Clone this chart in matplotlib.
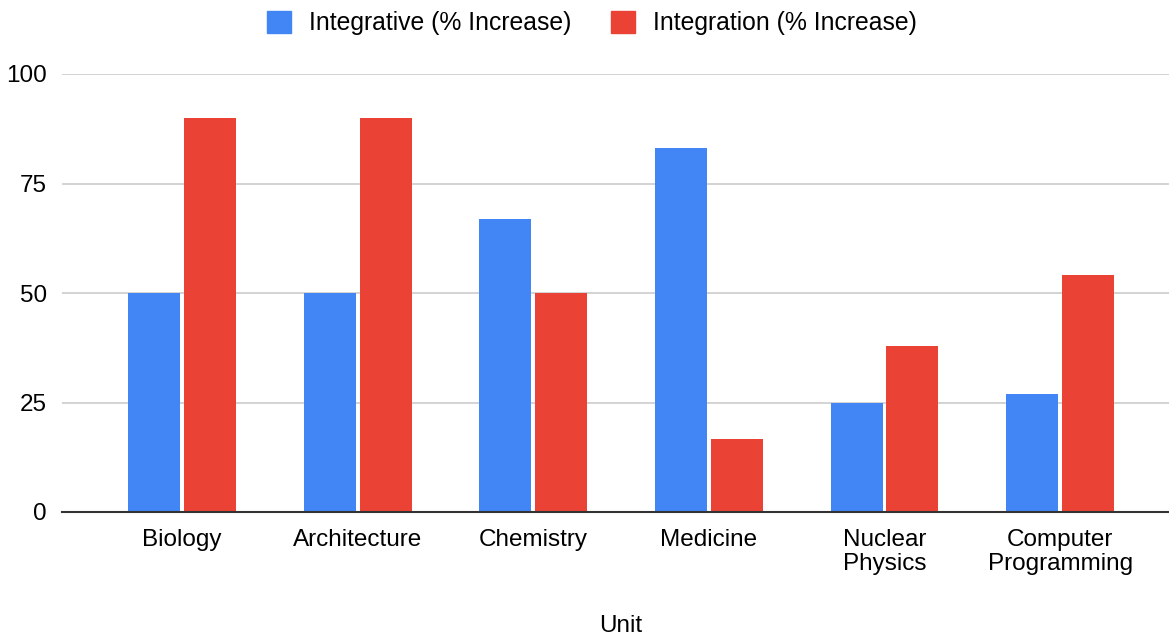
import matplotlib
matplotlib.use("Agg")
import matplotlib.pyplot as plt
import matplotlib.patches as mpatches
import numpy as np

plt.rcParams['font.family'] = ['Liberation Sans', 'DejaVu Sans']

units = ['Biology', 'Architecture', 'Chemistry', 'Medicine',
         'Nuclear\nPhysics', 'Computer\nProgramming']
integrative = [50, 50, 67, 83, 25, 27]
integration = [90, 90, 50, 16.7, 38, 54.2]

blue = '#4285F4'
red = '#EA4335'

fig = plt.figure(figsize=(11.69, 6.36), dpi=100)
ax = fig.add_axes([62/1169, 1 - 512/636, 1 - 62/1169, (512 - 74)/636])

x = np.arange(len(units))
w = 0.296
off = 0.159
ax.bar(x - off, integrative, w, color=blue, zorder=3)
ax.bar(x + off, integration, w, color=red, zorder=3)

ax.set_ylim(0, 100)
ax.set_xlim(-0.683, 5.62)
ax.set_yticks([0, 25, 50, 75, 100])
ax.grid(True, axis='y', color='#cccccc', linewidth=1.2, zorder=0)
ax.set_xticks(x)
ax.set_xticklabels(units, fontsize=17.5, linespacing=1.15)
ax.tick_params(axis='x', length=0, pad=12)
ax.tick_params(axis='y', length=0, pad=11, labelsize=17.5)
for s in ['top', 'right', 'left']:
    ax.spines[s].set_visible(False)
ax.spines['bottom'].set_color('#333333')
ax.spines['bottom'].set_linewidth(1.5)
ax.spines['bottom'].set_zorder(4)

fig.text(0.531, 1 - 626/636, 'Unit', ha='center', va='center', fontsize=17.5)

handles = [mpatches.Patch(color=blue, label='Integrative (% Increase)'),
           mpatches.Patch(color=red, label='Integration (% Increase)')]
fig.legend(handles=handles, loc='center', bbox_to_anchor=(592/1169, 1 - 23/636),
           ncol=2, frameon=False, fontsize=17.8, handlelength=0.95, handleheight=1.0,
           handletextpad=0.75, columnspacing=1.6)

plt.savefig('out.png', dpi=100)
